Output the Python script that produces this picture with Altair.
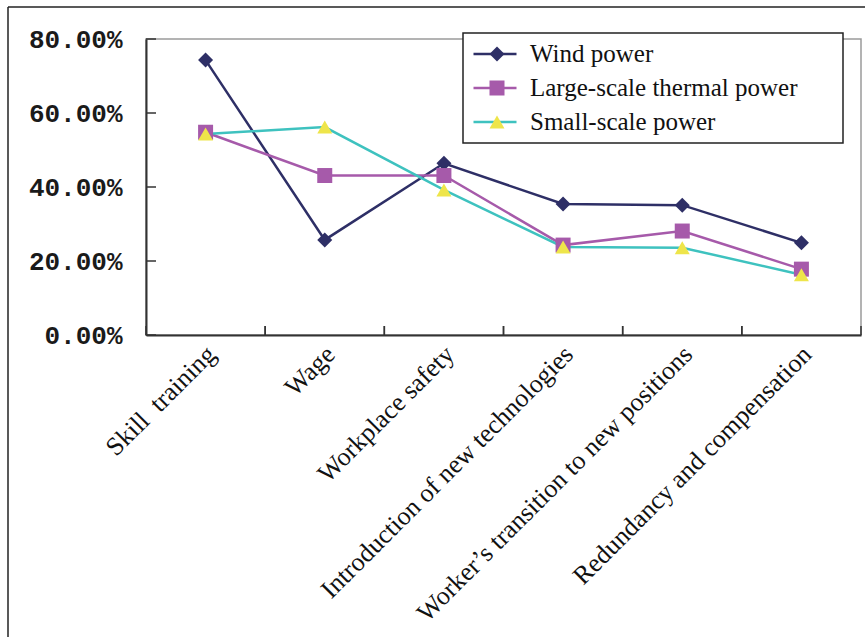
import altair as alt
import pandas as pd

# Survey categories and the share of respondents per sector
categories = [
    "Skill\u00a0 training",
    "Wage",
    "Workplace safety",
    "Introduction of new technologies",
    "Worker\u2019s transition to new positions",
    "Redundancy and compensation",
]
series_names = ["Wind power", "Large-scale thermal power", "Small-scale power"]
wind_power = [0.743, 0.257, 0.464, 0.354, 0.351, 0.249]
large_thermal = [0.548, 0.431, 0.431, 0.243, 0.281, 0.178]
small_scale = [0.543, 0.562, 0.392, 0.238, 0.236, 0.163]
y_ticks = [0.0, 0.2, 0.4, 0.6, 0.8]

line_colors = ["#2E2F66", "#A65AAA", "#3EC2BF"]
marker_colors = ["#2E2F66", "#A65AAA", "#EEE54A"]
marker_shapes = ["diamond", "square", "triangle-up"]

rows = []
for name, vals in zip(series_names, [wind_power, large_thermal, small_scale]):
    for cat, v in zip(categories, vals):
        rows.append({"category": cat, "series": name, "marker": name, "value": v})
df = pd.DataFrame(rows)
cat_df = pd.DataFrame({"category": categories})
tick_df = pd.DataFrame({"value": y_ticks})
one = pd.DataFrame({"k": [0]})

W, H = 715, 296
PAD_L, PAD_T = 146, 39

x_scale = alt.Scale(type="band", domain=categories, paddingInner=0, paddingOuter=0)
y_scale = alt.Scale(domain=[0, 0.8])

x_axis = alt.Axis(
    labelAngle=-45, labelAlign="right", labelBaseline="middle",
    labelFont="Liberation Serif", labelFontSize=26, labelColor="#111111",
    labelPadding=15, labelOffset=6, labelLimit=600, tickSize=0,
    domainColor="#333333", domainWidth=2, title=None,
)
y_axis = alt.Axis(
    values=y_ticks, format=".2%", grid=False, tickSize=0,
    labelFont="Liberation Mono", labelFontSize=26, labelFontWeight="bold",
    labelColor="#1a1a1a", labelPadding=24, domainColor="#333333", domainWidth=2,
    title=None,
)

def x_enc(**kw):
    return alt.X("category:N", sort=categories, scale=x_scale, axis=x_axis, title=None, **kw)

def y_enc():
    return alt.Y("value:Q", scale=y_scale, axis=y_axis, title=None)

# trailing non-breaking spaces widen the legend box; the zero-width char keeps them from being trimmed
label_tail = "\u00a0" * 6 + "\u200b"

# legend: stroke swatches with labels, and a second legend that overlays the markers
line_legend = alt.Legend(
    title=None, orient="none", legendX=317, legendY=-6, padding=8,
    strokeColor="#222222", fillColor="white",
    symbolType="stroke", symbolSize=1849, symbolStrokeWidth=2.5, symbolOffset=1,
    labelOffset=12, clipHeight=26, rowPadding=8, labelLimit=500,
    labelFont="Liberation Serif", labelFontSize=25, labelColor="#111111",
    labelExpr="datum.label + '" + label_tail + "'",
)
marker_legend = alt.Legend(
    title=None, orient="none", legendX=329.5, legendY=-6, padding=8,
    symbolSize=225, symbolStrokeWidth=0, symbolOffset=1,
    clipHeight=26, rowPadding=8, labelExpr="''",
    labelFont="Liberation Serif", labelFontSize=25,
)

lines = alt.Chart(df).mark_line(strokeWidth=2.5).encode(
    x=x_enc(),
    y=y_enc(),
    color=alt.Color("series:N", scale=alt.Scale(domain=series_names, range=line_colors),
                    legend=line_legend),
)

points = alt.Chart(df).mark_point(filled=True, size=225, opacity=1, strokeWidth=0).encode(
    x=x_enc(),
    y=y_enc(),
    fill=alt.Fill("marker:N", scale=alt.Scale(domain=series_names, range=marker_colors),
                  legend=marker_legend),
    shape=alt.Shape("marker:N", scale=alt.Scale(domain=series_names, range=marker_shapes),
                    legend=marker_legend),
)

# inward tick marks on both axes
y_tick_marks = alt.Chart(tick_df).mark_rule(color="#333333", strokeWidth=1.5).encode(
    y=y_enc(),
    x=alt.value(0), x2=alt.value(10),
)
x_tick_start = alt.Chart(cat_df).mark_rule(color="#333333", strokeWidth=1.5).encode(
    x=x_enc(bandPosition=0),
    y=alt.value(H), y2=alt.value(H - 9),
)
x_tick_end = alt.Chart(cat_df).mark_rule(color="#333333", strokeWidth=1.5).encode(
    x=x_enc(bandPosition=1),
    y=alt.value(H), y2=alt.value(H - 9),
)

# outer frame
frame_left = alt.Chart(one).mark_rule(color="#222222", strokeWidth=1.5).encode(
    x=alt.value(8 - PAD_L), y=alt.value(7 - PAD_T), y2=alt.value(637 - PAD_T),
)
frame_top = alt.Chart(one).mark_rule(color="#222222", strokeWidth=1.5).encode(
    y=alt.value(7 - PAD_T), x=alt.value(8 - PAD_L), x2=alt.value(865 - PAD_L),
)

chart = alt.layer(
    lines, points, y_tick_marks, x_tick_start, x_tick_end, frame_left, frame_top
).resolve_scale(
    color="independent", fill="independent", shape="independent"
).properties(
    width=W, height=H,
    autosize=alt.AutoSizeParams(type="none"),
    padding={"left": PAD_L, "top": PAD_T, "right": 865 - PAD_L - W, "bottom": 637 - PAD_T - H},
    background="white",
).configure_view(
    stroke="#9a9a9a", strokeWidth=1.5
).configure_legend(
    strokeWidth=1.5
)

chart.save("out.html", embed_options={"renderer": "svg", "actions": False})
